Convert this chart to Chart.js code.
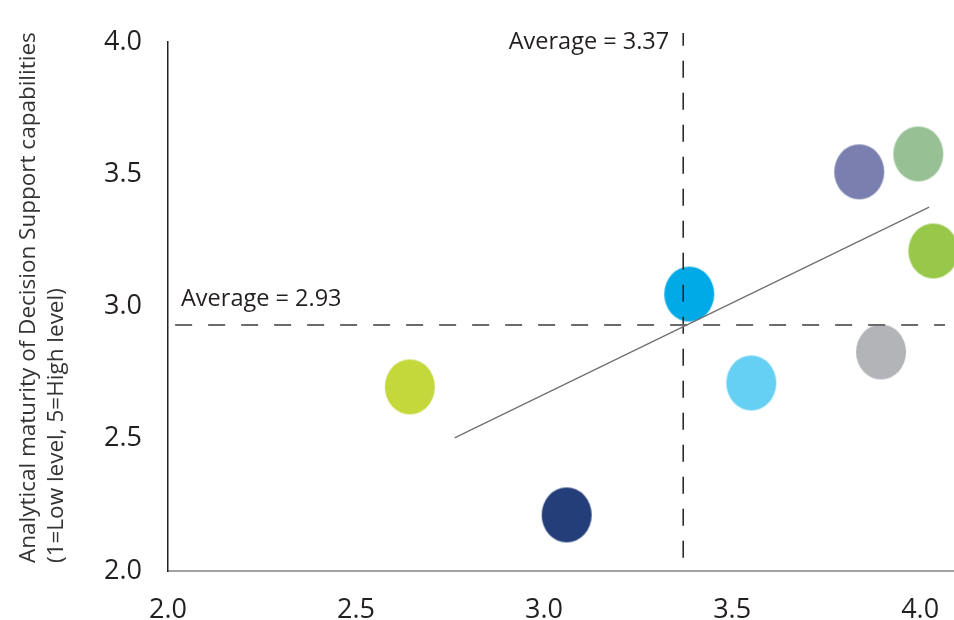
<!DOCTYPE html>
<html>
<head>
<meta charset="utf-8">
<title>Analytical maturity scatter</title>
<script src="https://cdn.jsdelivr.net/npm/chart.js@4.4.1/dist/chart.umd.min.js"></script>
<style>
    html, body { margin: 0; padding: 0; background: #ffffff; }
    #chart { display: block; }
</style>
</head>
<body>
<canvas id="chart" width="954" height="620"></canvas>
<script>
// Data
const pointNames = ['A', 'B', 'C', 'D', 'E', 'F', 'G', 'H'];
const xValues = [2.643, 3.060, 3.386, 3.551, 3.838, 3.995, 4.035, 3.896];
const yValues = [2.696, 2.212, 3.047, 2.711, 3.509, 3.577, 3.210, 2.828];
const pointColors = ['#c4d83b', '#243e79', '#00aae6', '#66d0f4', '#7a7fb0', '#98c095', '#97c84a', '#b3b4b7'];

const xTickValues = [2.0, 2.5, 3.0, 3.5, 4.0];
const yTickValues = [2.0, 2.5, 3.0, 3.5, 4.0];

const avgX = 3.37;
const avgY = 2.93;

// trend line end points
const trendX = [2.762, 4.024];
const trendY = [2.503, 3.376];

const yTitleLines = ['Analytical maturity of Decision Support capabilities', '(1=Low level, 5=High level)'];

const FONT = "'Open Sans', sans-serif";
const TEXT_COLOR = '#231f20';

// Slightly tall ellipse used as the marker image
function makeBubble(color) {
    const c = document.createElement('canvas');
    c.width = 52;
    c.height = 57;
    const g = c.getContext('2d');
    g.fillStyle = color;
    g.beginPath();
    g.ellipse(26, 28.5, 25, 27.5, 0, 0, Math.PI * 2);
    g.fill();
    return c;
}

const bubbleSets = pointNames.map((name, i) => ({
    label: name,
    data: [{ x: xValues[i], y: yValues[i] }],
    pointStyle: makeBubble(pointColors[i]),
    backgroundColor: pointColors[i],
    pointRadius: 25,
    showLine: false,
    clip: false,
    order: 2
}));

const lineSets = [{
    label: 'Trend',
    data: [{ x: trendX[0], y: trendY[0] }, { x: trendX[1], y: trendY[1] }],
    borderColor: '#707070',
    borderWidth: 1.3,
    pointRadius: 0,
    showLine: true,
    order: 0
}, {
    label: 'Average Y',
    data: [{ x: 2.019, y: avgY }, { x: 4.066, y: avgY }],
    borderColor: '#6b6b6b',
    borderWidth: 2,
    borderDash: [17, 16],
    pointRadius: 0,
    showLine: true,
    order: 1
}, {
    label: 'Average X',
    data: [{ x: avgX, y: 2.05 }, { x: avgX, y: 4.034 }],
    borderColor: '#2a2a2a',
    borderWidth: 1.6,
    borderDash: [17, 15],
    pointRadius: 0,
    showLine: true,
    clip: false,
    order: 1
}];

// Axis title and the two "Average" captions
const annotations = {
    id: 'annotations',
    afterDraw(chart) {
        const ctx = chart.ctx;
        const xs = chart.scales.x;
        const ys = chart.scales.y;
        ctx.save();
        ctx.fillStyle = TEXT_COLOR;
        ctx.textBaseline = 'middle';

        ctx.font = '23.5px ' + FONT;
        ctx.textAlign = 'left';
        ctx.fillText('Average = ' + avgY.toFixed(2), chart.chartArea.left + 13, ys.getPixelForValue(avgY) - 26);
        ctx.textAlign = 'right';
        ctx.fillText('Average = ' + avgX.toFixed(2), xs.getPixelForValue(avgX) - 14, chart.chartArea.top);

        ctx.font = '22.5px ' + FONT;
        ctx.fillStyle = '#333333';
        ctx.translate(0, 563);
        ctx.rotate(-Math.PI / 2);
        ctx.textAlign = 'left';
        ctx.fillText(yTitleLines[0], 0, 29);
        ctx.fillText(yTitleLines[1], 0, 57);
        ctx.restore();
    }
};

const tickFont = { family: FONT, size: 27 };

// drop the label overhang padding so the plot runs to the canvas edge
function noOverhang(scale) {
    scale.paddingLeft = 0;
    scale.paddingRight = 0;
    scale.paddingTop = 0;
    scale.paddingBottom = 0;
}

new Chart(document.getElementById('chart'), {
    type: 'scatter',
    data: { datasets: [...lineSets, ...bubbleSets] },
    options: {
        responsive: false,
        devicePixelRatio: 1,
        animation: false,
        layout: { autoPadding: false, padding: { top: 42, right: 0, bottom: 0, left: 0 } },
        plugins: {
            legend: { display: false },
            tooltip: { enabled: false }
        },
        scales: {
            x: {
                type: 'linear',
                min: 2.0,
                max: 4.09,
                grid: { display: false, drawTicks: false },
                border: { display: true, color: '#a3a3a3', width: 2 },
                afterBuildTicks: (scale) => { scale.ticks = xTickValues.map(v => ({ value: v })); },
                afterFit: (scale) => { scale.height = 49; noOverhang(scale); },
                ticks: {
                    padding: 23,
                    color: TEXT_COLOR,
                    font: tickFont,
                    maxRotation: 0,
                    callback: (v) => Number(v).toFixed(1)
                }
            },
            y: {
                type: 'linear',
                min: 2.0,
                max: 4.0,
                grid: { display: false, drawTicks: false },
                border: { display: true, color: '#222222', width: 1.5 },
                afterBuildTicks: (scale) => { scale.ticks = yTickValues.map(v => ({ value: v })); },
                afterFit: (scale) => { scale.width = 168; noOverhang(scale); },
                ticks: {
                    padding: 26,
                    color: TEXT_COLOR,
                    font: tickFont,
                    callback: (v) => Number(v).toFixed(1)
                }
            }
        }
    },
    plugins: [annotations]
});
</script>
</body>
</html>
